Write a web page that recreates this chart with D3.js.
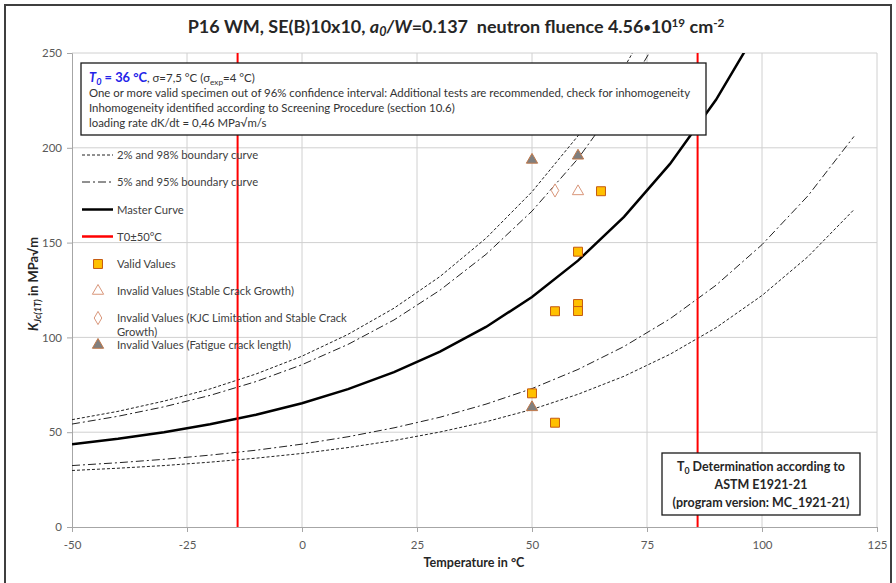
<!DOCTYPE html>
<html><head><meta charset="utf-8">
<script src="https://cdn.jsdelivr.net/npm/d3@7"></script>
<style>body{margin:0;background:#fff}svg{display:block}</style>
</head><body>
<script>
// ---------- data ----------
const temps = [-50,-40,-30,-20,-10,0,10,20,30,40,50,60,70,80,90,100,110,120];
const master  = [43.7,46.5,50.0,54.2,59.2,65.3,72.7,81.7,92.5,105.5,121.3,140.5,163.6,191.5,225.3,266.2];
const lower2  = [29.8,31.0,32.4,34.2,36.3,38.8,41.9,45.6,50.1,55.5,62.0,70.0,79.5,91.1,105.1,122.1,142.6,167.4];
const upper98 = [56.6,61.0,66.4,72.8,80.7,90.1,101.6,115.4,132.1,152.3,176.8,206.3,242.1,285.3];
const lower5  = [32.4,33.9,35.7,37.9,40.5,43.7,47.6,52.3,57.9,64.8,73.0,83.1,95.2,109.8,127.5,148.9,174.7,206.0];
const upper95 = [54.3,58.4,63.4,69.4,76.7,85.6,96.3,109.2,124.9,143.8,166.6,194.3,227.8,268.2];
const t0Lines = [-14, 86];
const validT = [50,55,55,60,60,60,65];
const validK = [70.5,55.0,113.8,117.6,113.9,145.2,177.1];
const stableT = [60];
const stableK = [177.0];
const kjcT = [55];
const kjcK = [177.5];
const fatigueT = [50,60,50];
const fatigueK = [193.6,195.8,63.1];
const xTicks = [-50,-25,0,25,50,75,100,125];
const yTicks = [0,50,100,150,200,250];
const legendLabels = ["2% and 98% boundary curve","5% and 95% boundary curve","Master Curve","T0±50°C","Valid Values","Invalid Values (Stable Crack Growth)","Invalid Values (KJC Limitation and Stable Crack","Invalid Values (Fatigue crack length)"];

// ---------- setup ----------
const W=896,H=583;
const FONT="Lato, 'Open Sans', sans-serif";
const svg=d3.select("body").append("svg").attr("width",W).attr("height",H).style("font-family",FONT);
svg.append("rect").attr("width",W).attr("height",H).attr("fill","#fff");
svg.append("rect").attr("x",5).attr("y",5).attr("width",886).attr("height",620)
  .attr("fill","none").attr("stroke","#3f3f3f").attr("stroke-width",2);

const x=d3.scaleLinear().domain([-50,125]).range([72,877]);
const y=d3.scaleLinear().domain([0,250]).range([527,53]);

function fit(sel,target){const w=sel.node().getComputedTextLength();const fs=parseFloat(sel.attr("font-size"));sel.attr("font-size",fs*target/w);}

// grid
svg.append("g").selectAll("line").data(xTicks.slice(1)).join("line")
  .attr("x1",d=>x(d)).attr("x2",d=>x(d)).attr("y1",y(0)).attr("y2",y(250))
  .attr("stroke","#d0d0d0").attr("stroke-width",1);
svg.append("g").selectAll("line").data(yTicks.slice(1)).join("line")
  .attr("y1",d=>y(d)).attr("y2",d=>y(d)).attr("x1",x(-50)).attr("x2",x(125))
  .attr("stroke","#d0d0d0").attr("stroke-width",1);

// axes
const gx=svg.append("g").attr("transform",`translate(0,${y(0)})`)
  .call(d3.axisBottom(x).tickValues(xTicks).tickSize(5).tickPadding(9).tickFormat(d3.format("d")));
const gy=svg.append("g").attr("transform",`translate(${x(-50)},0)`)
  .call(d3.axisLeft(y).tickValues(yTicks).tickSize(5).tickPadding(5).tickFormat(d3.format("d")));
[gx,gy].forEach(g=>{g.select(".domain").attr("stroke","#a6a6a6");g.selectAll(".tick line").attr("stroke","#a6a6a6");
  g.selectAll("text").attr("fill","#595959").attr("font-size",11.5).attr("font-family",FONT);});
gx.selectAll(".tick text").text(d=>d<0?"-"+Math.abs(d):d);

// clip
svg.append("clipPath").attr("id","pc").append("rect").attr("x",x(-50)).attr("y",y(250)).attr("width",x(125)-x(-50)).attr("height",y(0)-y(250));
const plot=svg.append("g").attr("clip-path","url(#pc)");
const line=d3.line().x(d=>x(d[0])).y(d=>y(d[1]));
function series(vals){return vals.map((v,i)=>[temps[i],v]);}
const dotted="3,2", dashdot="8,3,2,3";
[[lower2,dotted,1],[upper98,dotted,1],[lower5,dashdot,1],[upper95,dashdot,1]].forEach(([v,da,w])=>{
  plot.append("path").attr("d",line(series(v))).attr("fill","none").attr("stroke","#222").attr("stroke-width",w).attr("stroke-dasharray",da);
});
plot.append("path").attr("d",line(series(master))).attr("fill","none").attr("stroke","#000").attr("stroke-width",2.5);
plot.selectAll(".t0").data(t0Lines).join("line").attr("x1",d=>x(d)).attr("x2",d=>x(d)).attr("y1",y(0)).attr("y2",y(250))
  .attr("stroke","#ff0000").attr("stroke-width",2);

// markers
const sq=d3.symbol().type(d3.symbolSquare).size(80);
const tri=d3.symbol().type(d3.symbolTriangle).size(55);
const dia=d3.symbol().type(d3.symbolDiamond).size(50);
function pts(T,K){return T.map((t,i)=>[t,K[i]]);}
const SQF="#ffc000",SQS="#c55a11",TRS="#d9967a",FTF="#7f7f7f",FTS="#c0784a";
svg.append("g").selectAll("path").data(pts(validT,validK)).join("path").attr("d",sq)
  .attr("transform",d=>`translate(${x(d[0])},${y(d[1])})`).attr("fill",SQF).attr("stroke",SQS).attr("stroke-width",1);
svg.append("g").selectAll("path").data(pts(stableT,stableK)).join("path").attr("d",tri)
  .attr("transform",d=>`translate(${x(d[0])},${y(d[1])})`).attr("fill","#fff").attr("stroke",TRS).attr("stroke-width",1);
svg.append("g").selectAll("path").data(pts(kjcT,kjcK)).join("path").attr("d",dia)
  .attr("transform",d=>`translate(${x(d[0])},${y(d[1])})`).attr("fill","#fff").attr("stroke",TRS).attr("stroke-width",1);
svg.append("g").selectAll("path").data(pts(fatigueT,fatigueK)).join("path").attr("d",tri)
  .attr("transform",d=>`translate(${x(d[0])},${y(d[1])})`).attr("fill",FTF).attr("stroke",FTS).attr("stroke-width",1);

// title
const title=svg.append("text").attr("x",456).attr("y",33).attr("text-anchor","middle").attr("font-weight","bold").attr("font-size",17).attr("fill","#262626");
title.append("tspan").text("P16 WM, SE(B)10x10, ");
title.append("tspan").attr("font-style","italic").text("a");
title.append("tspan").attr("font-style","italic").attr("font-size","70%").attr("dy",3).text("0");
title.append("tspan").attr("dy",-3).attr("font-style","italic").text("/W");
title.append("tspan").text("=0.137\u00a0\u00a0neutron fluence 4.56");
title.append("tspan").attr("font-size","70%").attr("dy",-1).text("•");
title.append("tspan").attr("dy",1).text("10");
title.append("tspan").attr("font-size","65%").attr("dy",-6).text("19");
title.append("tspan").attr("dy",6).text(" cm");
title.append("tspan").attr("font-size","65%").attr("dy",-6).text("-2");
fit(title,537);

// axis titles
const xl=svg.append("text").attr("x",474).attr("y",567).attr("text-anchor","middle").attr("font-weight","bold").attr("font-size",12).attr("fill","#262626").text("Temperature in °C");
fit(xl,101);
const yl=svg.append("text").attr("transform","translate(38,284) rotate(-90)").attr("text-anchor","middle").attr("font-weight","bold").attr("font-size",13).attr("fill","#262626");
yl.append("tspan").attr("font-style","italic").text("K");
yl.append("tspan").attr("font-style","italic").attr("font-size","72%").attr("dy",3).text("Jc(1T)");
yl.append("tspan").attr("dy",-3).text(" in MPa√m");
fit(yl,94);

// top text box
svg.append("rect").attr("x",81).attr("y",63).attr("width",625).attr("height",72).attr("fill","#fff").attr("stroke","#1a1a1a").attr("stroke-width",1.3);
const l1=svg.append("text").attr("x",89).attr("y",82).attr("font-size",12.5).attr("fill","#333");
l1.append("tspan").attr("fill","#2323e8").attr("font-weight","bold").attr("font-style","italic").attr("font-size","112%").text("T");
l1.append("tspan").attr("fill","#2323e8").attr("font-weight","bold").attr("font-style","italic").attr("font-size","80%").attr("dy",3).text("0");
l1.append("tspan").attr("fill","#2323e8").attr("font-weight","bold").attr("font-size","112%").attr("dy",-3).text(" = 36 °C");
l1.append("tspan").text(", σ=7,5 °C (σ");
l1.append("tspan").attr("font-size","72%").attr("dy",3).text("exp");
l1.append("tspan").attr("dy",-3).text("=4 °C)");
fit(l1,166);
const boxLines=["One or more valid specimen out of 96% confidence interval: Additional tests are recommended, check for inhomogeneity",
 "Inhomogeneity identified according to Screening Procedure (section 10.6)","loading rate dK/dt = 0,46 MPa√m/s"];
const bl=svg.append("g").selectAll("text").data(boxLines).join("text").attr("x",89).attr("y",(d,i)=>97+i*15)
  .attr("font-size",12).attr("fill","#333").text(d=>d);
{const w=bl.nodes()[0].getComputedTextLength();bl.attr("font-size",12*602/w);}

// legend
const lg=svg.append("g");
const ly=[155,182,209.5,236.5,264,291,318,345];
const sampleX1=82,sampleX2=113;
[[dotted,1,"#222"],[dashdot,1,"#222"],[null,2.5,"#000"],[null,2.5,"#ff0000"]].forEach((s,i)=>{
  const l=lg.append("line").attr("x1",sampleX1).attr("x2",sampleX2).attr("y1",ly[i]).attr("y2",ly[i]).attr("stroke",s[2]).attr("stroke-width",s[1]);
  if(s[0]) l.attr("stroke-dasharray",s[0]);
});
lg.append("path").attr("d",sq).attr("transform",`translate(98,${ly[4]})`).attr("fill",SQF).attr("stroke",SQS);
lg.append("path").attr("d",tri).attr("transform",`translate(98,${ly[5]})`).attr("fill","#fff").attr("stroke",TRS);
lg.append("path").attr("d",dia).attr("transform",`translate(98,${ly[6]})`).attr("fill","#fff").attr("stroke",TRS);
lg.append("path").attr("d",tri).attr("transform",`translate(98,${ly[7]})`).attr("fill",FTF).attr("stroke",FTS);
const lt=lg.selectAll("text.lt").data(legendLabels).join("text").attr("class","lt").attr("x",117).attr("y",(d,i)=>ly[i]+4)
  .attr("font-size",11).attr("fill","#404040").text(d=>d);
const lt2=lg.append("text").attr("x",117).attr("y",ly[6]+18).attr("font-size",11).attr("fill","#404040").text("Growth)");
{const w=lt.nodes()[6].getComputedTextLength();const fs=11*230/w;lt.attr("font-size",fs);lt2.attr("font-size",fs);}

// bottom box
svg.append("rect").attr("x",662).attr("y",453).attr("width",198).attr("height",62).attr("fill","#fff").attr("stroke","#1a1a1a").attr("stroke-width",1.3);
const bb=svg.append("g").attr("font-weight","bold").attr("fill","#262626");
const b1=bb.append("text").attr("x",761).attr("y",471).attr("text-anchor","middle").attr("font-size",12);
b1.append("tspan").text("T");
b1.append("tspan").attr("font-size","70%").attr("dy",3).text("0");
b1.append("tspan").attr("dy",-3).text(" Determination according to");
const b2=bb.append("text").attr("x",761).attr("y",489).attr("text-anchor","middle").attr("font-size",12).text("ASTM E1921-21");
const b3=bb.append("text").attr("x",761).attr("y",507).attr("text-anchor","middle").attr("font-size",12).text("(program version: MC_1921-21)");
{const w=b3.node().getComputedTextLength();const fs=12*177/w;[b1,b2,b3].forEach(t=>t.attr("font-size",fs));}
</script>
</body></html>
